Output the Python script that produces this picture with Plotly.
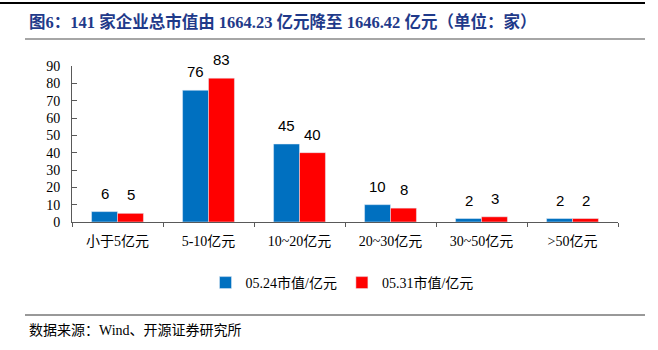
import plotly.graph_objects as go

categories = ["小于5亿元", "5-10亿元", "10~20亿元", "20~30亿元", "30~50亿元", ">50亿元"]
series_0524 = [6, 76, 45, 10, 2, 2]
series_0531 = [5, 83, 40, 8, 3, 2]
name_0524 = "05.24市值/亿元"
name_0531 = "05.31市值/亿元"
y_ticks = [0, 10, 20, 30, 40, 50, 60, 70, 80, 90]

W, H = 658, 350
L, R, T, B = 72, 40, 66, 128
PW, PH = W - L - R, H - T - B


def px_x(px):
    return (px - L) / PW


def px_y(py):
    return (H - B - py) / PH


serif = "Liberation Serif, Noto Sans CJK SC, serif"
label_font = dict(family="Liberation Sans, Arial, sans-serif", size=15, color="#000000")

fig = go.Figure()
fig.add_trace(go.Bar(x=categories, y=series_0524, name=name_0524, marker_color="#0070C0"))
fig.add_trace(go.Bar(x=categories, y=series_0531, name=name_0531, marker_color="#FF0000"))

# value labels above each bar, offset to sit over its half of the group
value_labels = []
for values, dx in ((series_0524, -13), (series_0531, 13)):
    for cat, v in zip(categories, values):
        value_labels.append(dict(
            x=cat, y=v, xref="x", yref="y", text=str(v), showarrow=False,
            xshift=dx, yshift=8, yanchor="bottom", xanchor="center", font=label_font,
        ))

shapes = [
    # heavy rule across the top of the page
    dict(type="line", xref="paper", yref="paper", x0=px_x(0), x1=px_x(645),
         y0=px_y(3), y1=px_y(3), line=dict(color="#000000", width=2)),
    # grey rule beneath the heading
    dict(type="line", xref="paper", yref="paper", x0=px_x(25), x1=px_x(645),
         y0=px_y(39), y1=px_y(39), line=dict(color="#A6A6A6", width=2)),
    # rule above the source line
    dict(type="line", xref="paper", yref="paper", x0=px_x(25), x1=px_x(645),
         y0=px_y(315), y1=px_y(315), line=dict(color="#333333", width=1)),
]

annotations = value_labels + [
    dict(text="<b>图6：141 家企业总市值由 1664.23 亿元降至 1646.42 亿元（单位：家）</b>",
         xref="paper", yref="paper", x=px_x(27), y=px_y(22), xanchor="left", yanchor="middle",
         showarrow=False, font=dict(family=serif, size=16.5, color="#1F3A8A")),
    dict(text="数据来源：Wind、开源证券研究所",
         xref="paper", yref="paper", x=px_x(27), y=px_y(330), xanchor="left", yanchor="middle",
         showarrow=False, font=dict(family=serif, size=14, color="#000000")),
]

fig.update_layout(
    width=W, height=H,
    margin=dict(l=L, r=R, t=T, b=B),
    paper_bgcolor="white", plot_bgcolor="white",
    barmode="group", bargap=0.43, bargroupgap=0,
    font=dict(family=serif, size=13, color="#000000"),
    showlegend=True,
    legend=dict(orientation="h", x=px_x(342), y=px_y(283), xanchor="center", yanchor="middle",
                font=dict(family=serif, size=14, color="#000000"), itemwidth=30,
                traceorder="normal"),
    shapes=shapes,
    annotations=annotations,
)
fig.update_xaxes(
    showline=True, linecolor="#595959", linewidth=1,
    ticks="outside", tickson="boundaries", ticklen=4, tickcolor="#595959",
    tickfont=dict(family=serif, size=14), showgrid=False, ticklabelstandoff=6,
)
fig.update_yaxes(
    range=[0, 90], tickvals=y_ticks, showline=True, linecolor="#595959", linewidth=1,
    ticks="inside", ticklen=5, tickcolor="#595959", showgrid=False, zeroline=False,
    tickfont=dict(family=serif, size=14), ticklabelstandoff=8,
)

fig.write_html("out.html")
